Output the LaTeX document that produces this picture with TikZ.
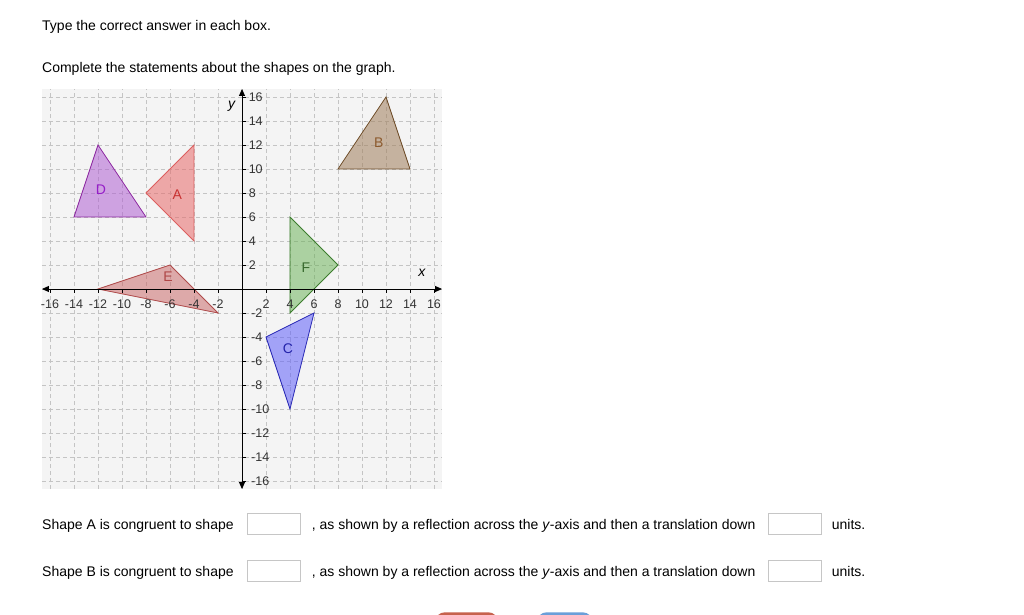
\documentclass[tikz,border=0pt]{standalone}
\usepackage{fontspec}
\setmainfont{Liberation Sans}
\usepackage{xcolor}
\usetikzlibrary{arrows.meta}

\definecolor{paneback}{HTML}{F4F4F4}
\definecolor{gridgray}{HTML}{C4C4C4}
\definecolor{boxgray}{HTML}{C6C6C6}
\definecolor{ticktext}{HTML}{333333}
\definecolor{btnred}{HTML}{C7624D}
\definecolor{btnblue}{HTML}{6B9FD9}

\begin{document}
\begin{tikzpicture}[x=12pt, y=12pt,
    every node/.style={inner sep=0pt, font=\fontsize{14}{16}\selectfont},
    gridline/.style={gridgray, very thin, dash pattern=on 4pt off 3pt},
    axisline/.style={black, line width=0.9pt, {Triangle[length=7pt,width=6pt]}-{Triangle[length=7pt,width=6pt]}},
    ticklbl/.style={font=\fontsize{12.5}{14}\selectfont, text=ticktext},
    triA/.style={draw={rgb,255:red,220;green,95;blue,95}, line width=0.8pt, fill={rgb,255:red,232;green,105;blue,105}, fill opacity=0.55},
    triB/.style={draw={rgb,255:red,110;green,76;blue,40}, line width=0.8pt, fill={rgb,255:red,160;green,125;blue,90}, fill opacity=0.55},
    triC/.style={draw={rgb,255:red,40;green,40;blue,180}, line width=0.8pt, fill={rgb,255:red,95;green,95;blue,250}, fill opacity=0.55},
    triD/.style={draw={rgb,255:red,140;green,40;blue,160}, line width=0.8pt, fill={rgb,255:red,175;green,95;blue,210}, fill opacity=0.55},
    triE/.style={draw={rgb,255:red,175;green,75;blue,75}, line width=0.8pt, fill={rgb,255:red,200;green,95;blue,95}, fill opacity=0.5},
    triF/.style={draw={rgb,255:red,60;green,125;blue,45}, line width=0.8pt, fill={rgb,255:red,100;green,175;blue,80}, fill opacity=0.5},
    answerbox/.style={draw=boxgray, line width=0.8pt, minimum width=53pt, minimum height=21pt, anchor=south west}]
    \useasboundingbox[fill=white] (-20.1667,-27.1667) rectangle (65.1667,24.0833);
    % Instructions
    \node[anchor=base west] (instr1) at (-16.667,21.5) {Type the correct answer in each box.};
    \node[anchor=base west] (instr2) at (-16.667,18.05) {Complete the statements about the shapes on the graph.};
    % Graph pane and grid
    \fill[paneback] (-16.67,-16.67) rectangle (16.67,16.67);
    \foreach \k in {-16,-14,...,16} {
        \draw[gridline] (\k,-16.67) -- (\k,16.67);
        \draw[gridline] (-16.67,\k) -- (16.67,\k);
    }
    % Shapes
    \filldraw[triA] (-8,8) -- (-4,12) -- (-4,4) -- cycle;
    \filldraw[triB] (8,10) -- (12,16) -- (14,10) -- cycle;
    \filldraw[triC] (2,-4) -- (6,-2) -- (4,-10) -- cycle;
    \filldraw[triD] (-14,6) -- (-8,6) -- (-12,12) -- cycle;
    \filldraw[triE] (-12,0) -- (-6,2) -- (-2,-2) -- cycle;
    \filldraw[triF] (4,6) -- (8,2) -- (4,-2) -- cycle;
    % Axes
    \draw[axisline] (-16.67,0) -- (16.67,0);
    \draw[axisline] (0,-16.67) -- (0,16.67);
    \node (xname) at (15,1.33) {\textit{x}};
    \node (yname) at (-0.83,15.25) {\textit{y}};
    \foreach \k in {-16,-14,...,-2} {
        \draw[black, thin] (\k,0) -- (\k,-0.3);
        \draw[black, thin] (0,\k) -- (0.35,\k);
        \node[ticklbl, anchor=base] (xl\k) at (\k,-1.61) {\k};
        \node[ticklbl, anchor=west] (yl\k) at (0.75,\k) {\k};
    }
    \foreach \k in {2,4,...,16} {
        \draw[black, thin] (\k,0) -- (\k,-0.3);
        \draw[black, thin] (0,\k) -- (0.35,\k);
        \node[ticklbl, anchor=base] (xl\k) at (\k,-1.61) {\k};
        \node[ticklbl, anchor=west] (yl\k) at (0.55,\k) {\k};
    }
    % Shape labels
    \node[text={rgb,255:red,200;green,50;blue,50}] (lblA) at (-5.4,7.9) {A};
    \node[text={rgb,255:red,140;green,90;blue,45}] (lblB) at (11.4,12.2) {B};
    \node[text={rgb,255:red,35;green,35;blue,170}] (lblC) at (3.83,-5) {C};
    \node[text={rgb,255:red,150;green,30;blue,200}] (lblD) at (-11.75,8.25) {D};
    \node[text={rgb,255:red,175;green,70;blue,70}] (lblE) at (-6.17,1.0) {E};
    \node[text={rgb,255:red,55;green,105;blue,45}] (lblF) at (5.33,1.75) {F};
    % Statements
    \node[anchor=base west] (stmtA) at (-16.667,-20.03) {Shape A is congruent to shape};
    \node[answerbox] (shapeboxA) at (0.458,-20.48) {};
    \node[anchor=base west] (reflA) at (5.81,-20.03) {, as shown by a reflection across the \textit{y}-axis and then a translation down};
    \node[answerbox] (unitboxA) at (43.86,-20.48) {};
    \node[anchor=base west] (unitsA) at (49.14,-20.03) {units.};
    \node[anchor=base west] (stmtB) at (-16.667,-23.92) {Shape B is congruent to shape};
    \node[answerbox] (shapeboxB) at (0.458,-24.39) {};
    \node[anchor=base west] (reflB) at (5.81,-23.92) {, as shown by a reflection across the \textit{y}-axis and then a translation down};
    \node[answerbox] (unitboxB) at (43.86,-24.39) {};
    \node[anchor=base west] (unitsB) at (49.14,-23.92) {units.};
    % Buttons cut off at the bottom
    \fill[btnred, rounded corners=10pt] (16.08,-26.94) rectangle (21.36,-30);
    \fill[btnblue, rounded corners=10pt] (24.56,-26.94) rectangle (29.22,-30);
\end{tikzpicture}
\end{document}
